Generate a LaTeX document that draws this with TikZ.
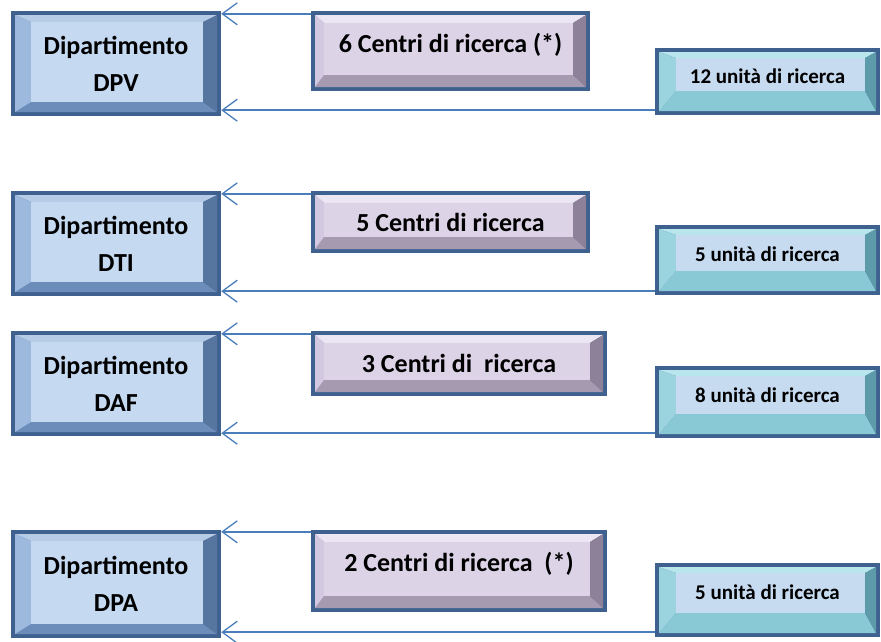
\documentclass[tikz,border=0pt]{standalone}
\usepackage{fontspec}
\setmainfont{Carlito}
\usetikzlibrary{arrows.meta,calc}
\definecolor{bordcol}{HTML}{3F6190}
\definecolor{conncol}{HTML}{4A7EBB}
% dept colours
\definecolor{dT}{HTML}{B5CBE6}
\definecolor{dL}{HTML}{9DB9DE}
\definecolor{dB}{HTML}{6C8DBA}
\definecolor{dR}{HTML}{57769F}
\definecolor{dF}{HTML}{C5D9F1}
% centri colours
\definecolor{cT}{HTML}{ECE5F3}
\definecolor{cL}{HTML}{D2C8DF}
\definecolor{cB}{HTML}{A69AB0}
\definecolor{cR}{HTML}{8C8198}
\definecolor{cF}{HTML}{DCD3E7}
% unita colours
\definecolor{uT}{HTML}{B9E5EC}
\definecolor{uL}{HTML}{9BD4DF}
\definecolor{uB}{HTML}{88C9D5}
\definecolor{uR}{HTML}{5E9BAA}
\definecolor{uF}{HTML}{C6DAF0}
\newcommand\bevdraw[9]{%
  \fill[#1] let \p1=(path picture bounding box.north west),\p2=(path picture bounding box.south east) in
    (\x1+4pt,\y1-4pt) -- (\x2-4pt,\y1-4pt) -- (\x2-4pt-#7,\y1-4pt-#8) -- (\x1+4pt+#6,\y1-4pt-#8) -- cycle;
  \fill[#3] let \p1=(path picture bounding box.north west),\p2=(path picture bounding box.south east) in
    (\x1+4pt,\y2+4pt) -- (\x2-4pt,\y2+4pt) -- (\x2-4pt-#7,\y2+4pt+#9) -- (\x1+4pt+#6,\y2+4pt+#9) -- cycle;
  \fill[#2] let \p1=(path picture bounding box.north west),\p2=(path picture bounding box.south east) in
    (\x1+4pt,\y1-4pt) -- (\x1+4pt+#6,\y1-4pt-#8) -- (\x1+4pt+#6,\y2+4pt+#9) -- (\x1+4pt,\y2+4pt) -- cycle;
  \fill[#4] let \p1=(path picture bounding box.north west),\p2=(path picture bounding box.south east) in
    (\x2-4pt,\y1-4pt) -- (\x2-4pt-#7,\y1-4pt-#8) -- (\x2-4pt-#7,\y2+4pt+#9) -- (\x2-4pt,\y2+4pt) -- cycle;
  \fill[#5] let \p1=(path picture bounding box.north west),\p2=(path picture bounding box.south east) in
    (\x1+4pt+#6,\y1-4pt-#8) rectangle (\x2-4pt-#7,\y2+4pt+#9);
}
\newcommand\up[2]{\raisebox{#1}[\height][\depth]{#2}}
\tikzset{
  basebox/.style={rectangle, fill=bordcol, inner sep=0pt, align=center, font=\bfseries},
  deptbox/.style={basebox, minimum width=210pt,
    font=\bfseries\fontsize{26}{37}\selectfont,
    path picture={\bevdraw{dT}{dL}{dB}{dR}{dF}{16pt}{14pt}{7pt}{10pt}}},
  centrobox/.style={basebox,
    font=\bfseries\fontsize{26}{30}\selectfont,
    path picture={\bevdraw{cT}{cL}{cB}{cR}{cF}{9pt}{13pt}{8pt}{12pt}}},
  unitabox/.style={basebox, minimum width=225pt,
    font=\bfseries\fontsize{21}{25}\selectfont,
    path picture={\bevdraw{uT}{uL}{uB}{uR}{uF}{17pt}{11pt}{6pt}{20pt}}},
  conn/.style={draw=conncol, line width=1.5pt},
  arr/.style={conn, -{Straight Barb[length=15pt,width=22pt,line width=1.3pt]}}
}
\begin{document}
\begin{tikzpicture}[x=1pt,y=-1pt]
\useasboundingbox (0,0) rectangle (881,641);
% Row 1
\node[deptbox, minimum height=105pt] (d1) at (116,63.5) {Dipartimento\\DPV};
\node[centrobox, minimum width=279pt, minimum height=80pt] (c1) at (450.5,51) {\up{6pt}{6 Centri di ricerca (*)}};
\node[unitabox, minimum height=67pt] (u1) at (767.5,81.5) {\up{5pt}{12 unità di ricerca}};
% Row 2
\node[deptbox, minimum height=105pt] (d2) at (116,243.5) {Dipartimento\\DTI};
\node[centrobox, minimum width=279pt, minimum height=62pt] (c2) at (450.5,222) {5 Centri di ricerca};
\node[unitabox, minimum height=70pt] (u2) at (767.5,260) {\up{6pt}{5 unità di ricerca}};
% Row 3
\node[deptbox, minimum height=105pt] (d3) at (116,383.5) {Dipartimento\\DAF};
\node[centrobox, minimum width=296pt, minimum height=65pt] (c3) at (459,363.5) {3 Centri di\ \ ricerca};
\node[unitabox, minimum height=72pt] (u3) at (767.5,402) {\up{7pt}{8 unità di ricerca}};
% Row 4
\node[deptbox, minimum height=108pt] (d4) at (116,584) {Dipartimento\\DPA};
\node[centrobox, minimum width=296pt, minimum height=82pt] (c4) at (459,571) {\up{7pt}{2 Centri di ricerca\ \ (*)}};
\node[unitabox, minimum height=74pt] (u4) at (767.5,600) {\up{8pt}{5 unità di ricerca}};
% connectors
\foreach \i/\ct/\ub in {1/3/5, 2/3/4, 3/3/5, 4/2/5}{
  \coordinate (ct\i) at ([yshift=-\ct pt]c\i.north west);
  \coordinate (ub\i) at ([yshift=\ub pt]u\i.south west);
  \draw[arr] (ct\i) -- (d\i.east |- ct\i);
  \draw[arr] (ub\i) -- (d\i.east |- ub\i);
}
\end{tikzpicture}
\end{document}
